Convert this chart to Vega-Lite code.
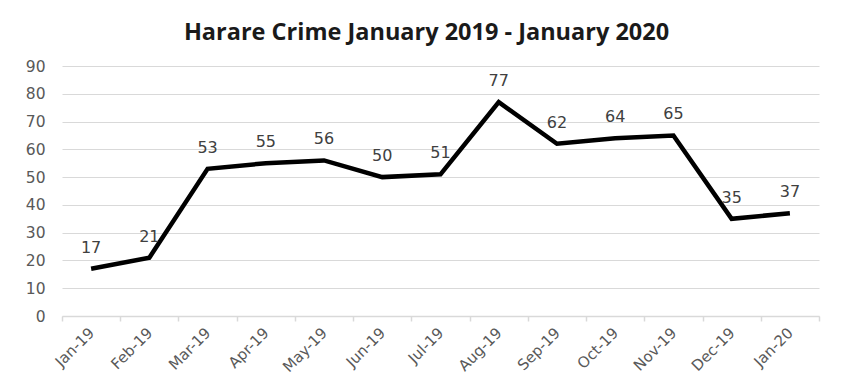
{
  "$schema": "https://vega.github.io/schema/vega-lite/v6.json",
  "autosize": {"type": "none"},
  "width": 757,
  "height": 250,
  "padding": {"left": 62, "top": 66, "right": 36, "bottom": 75},
  "background": "white",
  "title": {
    "text": "Harare Crime January 2019 - January 2020",
    "font": "Open Sans",
    "fontSize": 23.5,
    "fontWeight": "bold",
    "color": "#1a1a1a",
    "anchor": "middle",
    "dx": -14,
    "offset": 15
  },
  "data": {
    "values": [
      {"month": "Jan-19", "crimes": 17},
      {"month": "Feb-19", "crimes": 21},
      {"month": "Mar-19", "crimes": 53},
      {"month": "Apr-19", "crimes": 55},
      {"month": "May-19", "crimes": 56},
      {"month": "Jun-19", "crimes": 50},
      {"month": "Jul-19", "crimes": 51},
      {"month": "Aug-19", "crimes": 77},
      {"month": "Sep-19", "crimes": 62},
      {"month": "Oct-19", "crimes": 64},
      {"month": "Nov-19", "crimes": 65},
      {"month": "Dec-19", "crimes": 35},
      {"month": "Jan-20", "crimes": 37}
    ]
  },
  "encoding": {
    "x": {
      "field": "month",
      "type": "ordinal",
      "sort": null,
      "scale": {"type": "band", "paddingInner": 0, "paddingOuter": 0},
      "axis": {
        "title": null,
        "labelAngle": -45,
        "labelAlign": "right",
        "labelBaseline": "middle",
        "labelPadding": 9,
        "labelFont": "DejaVu Sans",
        "labelFontSize": 15,
        "labelColor": "#595959",
        "domainColor": "#d9d9d9",
        "domainWidth": 1.5,
        "tickBand": "extent",
        "tickColor": "#d9d9d9",
        "tickSize": 5,
        "tickWidth": 1.5,
        "grid": false
      }
    },
    "y": {
      "field": "crimes",
      "type": "quantitative",
      "scale": {"domain": [0, 90], "nice": false},
      "axis": {
        "title": null,
        "values": [0, 10, 20, 30, 40, 50, 60, 70, 80, 90],
        "domain": false,
        "ticks": false,
        "labelPadding": 17,
        "labelFont": "DejaVu Sans",
        "labelFontSize": 15.5,
        "labelColor": "#595959",
        "gridColor": "#d9d9d9",
        "gridWidth": 1.2
      }
    }
  },
  "layer": [
    {
      "mark": {"type": "line", "color": "black", "strokeWidth": 4.5, "strokeJoin": "miter"}
    },
    {
      "mark": {"type": "text", "dy": -21, "baseline": "middle", "font": "DejaVu Sans", "fontSize": 16, "color": "#404040"},
      "encoding": {"text": {"field": "crimes", "type": "quantitative"}}
    }
  ],
  "config": {"view": {"stroke": null}}
}
